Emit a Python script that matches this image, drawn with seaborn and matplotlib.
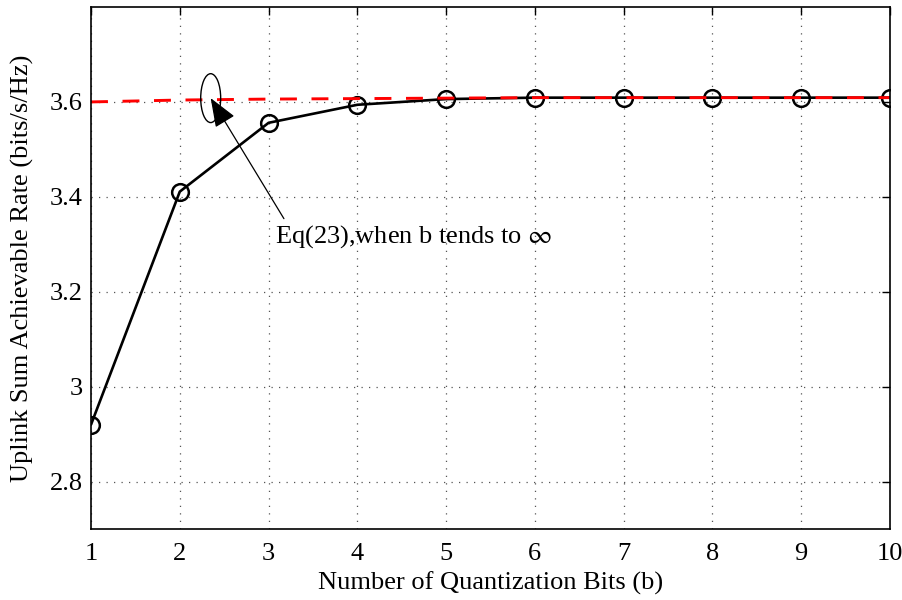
"""
Uplink sum achievable rate vs number of quantization bits.
"""

import matplotlib
matplotlib.use('Agg')
import matplotlib.pyplot as plt
from matplotlib.patches import Ellipse
import seaborn as sns

# data
bits = [1, 2, 3, 4, 5, 6, 7, 8, 9, 10]
rate = [2.920, 3.411, 3.556, 3.594, 3.606, 3.609, 3.609, 3.609, 3.609, 3.609]
rate_inf = [3.600, 3.604, 3.606, 3.607, 3.608, 3.609, 3.609, 3.609, 3.609, 3.609]

yticks = [2.8, 3.0, 3.2, 3.4, 3.6]
ytick_labels = ['2.8', '3', '3.2', '3.4', '3.6']

sns.set_style('white')
plt.rcParams['font.family'] = ['Liberation Serif', 'DejaVu Serif']
plt.rcParams['mathtext.fontset'] = 'stix'
plt.rcParams['text.color'] = 'black'
plt.rcParams['axes.labelcolor'] = 'black'

fig = plt.figure(figsize=(9.03, 6.0), dpi=100)
ax = fig.add_axes([0.1008, 0.1183, 0.8848, 0.87])

# main curve
sns.lineplot(x=bits, y=rate, ax=ax, color='black', linewidth=1.9,
             marker='o', markersize=12, markerfacecolor='none',
             markeredgecolor='black', markeredgewidth=1.8)

# asymptote (b -> infinity), drawn on top
sns.lineplot(x=bits, y=rate_inf, ax=ax, color='red', linewidth=2.1)
ax.lines[-1].set_dashes((5.8, 5.0))

ax.set_xlim(1, 10)
ax.set_ylim(2.7, 3.8)
ax.set_xticks(bits)
ax.set_yticks(yticks)
ax.set_yticklabels(ytick_labels)

ax.grid(True, color='#555555', linestyle=(0, (1, 5)), linewidth=0.9)
ax.tick_params(direction='in', length=6, width=1, top=True, right=True,
               labelsize=19, colors='black')
ax.tick_params(axis='x', pad=10)
ax.tick_params(axis='y', pad=6)
for sp in ax.spines.values():
    sp.set_color('black')
    sp.set_linewidth(1.2)

ax.set_xlabel('Number of Quantization Bits (b)', fontsize=19, labelpad=5)
ax.set_ylabel('Uplink Sum Achievable Rate (bits/s/Hz)', fontsize=19, labelpad=11)

# annotation with ellipse and arrow
ax.add_patch(Ellipse((2.348, 3.608), 0.225, 0.103, fill=False,
                     edgecolor='black', linewidth=1.0, zorder=5))
ax.annotate('', xy=(2.348, 3.608), xytext=(3.173, 3.354),
            arrowprops=dict(arrowstyle='-|>,head_length=0.9,head_width=0.35',
                            mutation_scale=20, color='black', linewidth=0.9,
                            shrinkA=0, shrinkB=0))
ax.text(3.072, 3.316, 'Eq(23),when b tends to $\\infty$', fontsize=19,
        ha='left', va='center')

fig.savefig('out.png', dpi=100)
